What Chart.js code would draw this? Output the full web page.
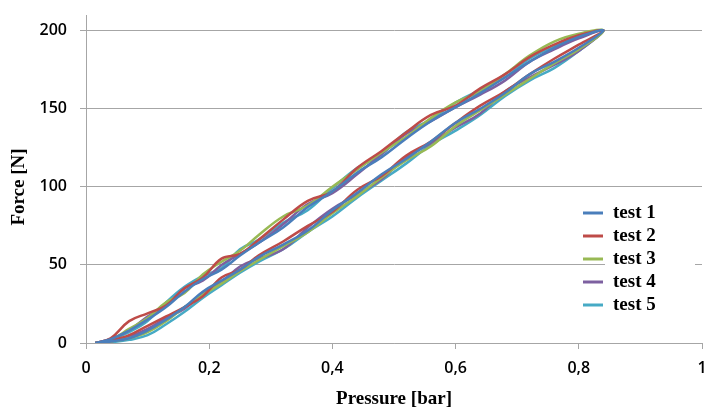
<!DOCTYPE html>
<html>
<head>
<meta charset="utf-8">
<script src="https://cdn.jsdelivr.net/npm/chart.js@4/dist/chart.umd.min.js"></script>
<style>
html,body{margin:0;padding:0;background:#fff;}
#wrap{width:704px;height:410px;position:relative;}
</style>
</head>
<body>
<div id="wrap"><canvas id="chart" width="704" height="410"></canvas></div>
<script>
// pressure grid [bar], shared by both branches
const pressure=[0.015,0.04,0.07,0.10,0.13,0.16,0.19,0.22,0.25,0.28,0.32,0.36,0.40,0.44,0.48,0.52,0.56,0.60,0.64,0.68,0.72,0.76,0.80,0.84];

// force [N] on the lower branch (rising pressure)
const lower1=[0,1,3,8,15,23,33,40,47,55,63,72,85,96,108,118,129,141,150,160,172,180,189,200];
const lower2=[0,1.5,5,11,17,23,30,42,47,56,65,75,84,98,107,120,129,141,152,161,172,182,191,200];
const lower3=[0,1,3,7,14,23,31,38,46,53,62,71,83,94,106,117,126,139,149,159,169,179,188,200];
const lower4=[0,1,4,9,16,22,32,39,49,54,60,74,86,95,105,119,128,138,147,161,170,178,187,200];
const lower5=[0,0.5,2,5,12,20,29,37,45,52,60,71,81,93,104,115,127,136,146,158,168,176,187,200];

// force [N] on the upper branch (falling pressure)
const upper1=[0,2.5,8,15,23,33,41,47,56,64,74,87,97,109,119,131,142,151,160,170,180,189,196,200];
const upper2=[0,3,14,19,24,35,42,54,57,66,79,91,97,112,123,135,146,152,163,172,183,191,197,200];
const upper3=[0,2,9,16,26,32,44,52,59,69,81,88,100,111,122,132,144,154,161,172,184,193,198,200];
const upper4=[0,2.5,8,17,24,35,40,50,57,64,76,89,96,108,121,134,142,151,159,168,180,188,195,200];
const upper5=[0,2,7,14,26,36,43,48,60,66,77,85,99,112,121,135,143,154,162,170,182,190,196,200];

const names=["test 1","test 2","test 3","test 4","test 5"];
const colors=["#4A7EBB","#BE4B48","#98B954","#7D60A0","#46AAC5"];
const xTicks=[0,0.2,0.4,0.6,0.8,1];
const yTicks=[0,50,100,150,200];

const lowers=[lower1,lower2,lower3,lower4,lower5];
const uppers=[upper1,upper2,upper3,upper4,upper5];

function loop(lo,up){
let pts=pressure.map((p,i)=>({x:p,y:lo[i]}));
for(let i=pressure.length-2;i>=0;i--)pts.push({x:pressure[i],y:up[i]});
return pts;
}

const serif="'Liberation Serif','Times New Roman',serif";

const extras={
id:"extras",
afterDraw(c){
let ctx=c.ctx;
ctx.save();
// axis titles
ctx.fillStyle="#000";
ctx.font="bold 19px "+serif;
ctx.textAlign="center";ctx.textBaseline="middle";
ctx.fillText("Pressure [bar]",(c.chartArea.left+c.chartArea.right)/2,399);
ctx.translate(19,187);ctx.rotate(-Math.PI/2);
ctx.fillText("Force [N]",0,0);
ctx.setTransform(1,0,0,1,0,0);
// legend
ctx.fillStyle="#fff";
ctx.fillRect(605,202,90,112);
ctx.textAlign="left";
names.forEach((n,i)=>{
let y=213+i*23;
ctx.strokeStyle=colors[i];ctx.lineWidth=3;
ctx.beginPath();ctx.moveTo(583,y);ctx.lineTo(603,y);ctx.stroke();
ctx.fillStyle="#000";
ctx.fillText(n,613,y);
});
ctx.restore();
}
};

new Chart(document.getElementById("chart"),{
type:"scatter",
data:{datasets:names.map((n,i)=>({
label:n,
data:loop(lowers[i],uppers[i]),
showLine:true,
borderColor:colors[i],
borderWidth:2.5,
pointRadius:0,
tension:0.4,
fill:false
}))},
options:{
responsive:false,
animation:false,
layout:{padding:{top:15,right:2,left:0,bottom:0}},
plugins:{legend:{display:false},tooltip:{enabled:false}},
scales:{
x:{
type:"linear",min:0,max:1,
afterBuildTicks:s=>{s.ticks=xTicks.map(v=>({value:v}));},
afterFit:s=>{s.height=67;s.paddingLeft=0;s.paddingRight=0;},
grid:{drawOnChartArea:false,drawTicks:true,tickLength:6,color:"#a6a6a6"},
border:{color:"#a6a6a6"},
ticks:{padding:10,color:"#000",font:{family:"'Open Sans',sans-serif",size:16,weight:"600"},
callback:v=>v===0||v===1?String(v):v.toFixed(1).replace(".",",")}
},
y:{
type:"linear",min:0,max:210,
afterBuildTicks:s=>{s.ticks=yTicks.map(v=>({value:v}));},
afterFit:s=>{s.width=86;s.paddingTop=0;s.paddingBottom=0;},
grid:{color:"#a6a6a6",tickLength:6},
border:{color:"#a6a6a6"},
ticks:{padding:13,color:"#000",font:{family:"'Open Sans',sans-serif",size:16,weight:"600"}}
}
}
},
plugins:[extras]
});
</script>
</body>
</html>
